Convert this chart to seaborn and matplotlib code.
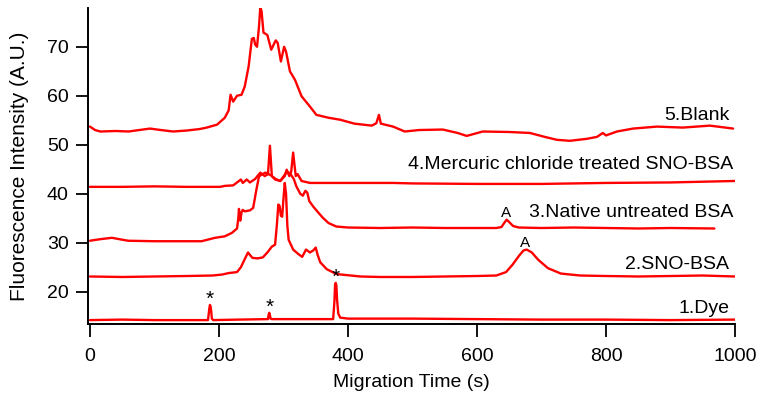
import numpy as np
import pandas as pd
import seaborn as sns
import matplotlib
matplotlib.use("Agg")
import matplotlib.pyplot as plt

# electropherogram traces (time in s, intensity in A.U.)
dye_t = [0, 50, 100, 150, 183, 185, 186, 187, 188, 189, 191, 230, 276, 277, 278, 279, 280, 282,
         330, 377, 379, 380, 381, 382, 383, 385, 388, 400, 500, 600, 700, 800, 900, 1000]
dye_y = [14.2, 14.3, 14.2, 14.2, 14.2, 16.5, 17.3, 17.0, 16.0, 14.5, 14.2, 14.3, 14.4, 15.3, 15.7, 15.2, 14.5, 14.4,
         14.4, 14.4, 18.0, 21.5, 21.8, 21.3, 18.5, 15.5, 14.7, 14.5, 14.5, 14.4, 14.3, 14.3, 14.2, 14.3]

sno_t = [0, 50, 100, 150, 190, 205, 215, 228, 234, 238, 242, 245, 248, 252, 260, 268, 275, 282, 287, 290,
         292, 294, 296, 298, 300, 302, 304, 306, 308, 315, 322, 329, 335, 341, 346, 350, 353, 357, 367, 382,
         419, 450, 500, 550, 600, 630, 645, 655, 665, 672, 677, 685, 695, 710, 730, 760, 800, 850, 900, 950, 1000]
sno_y = [23.1, 23.0, 23.1, 23.2, 23.3, 23.5, 23.8, 24.0, 25.0, 26.1, 27.2, 28.0, 27.5, 26.9, 26.8, 27.0, 28.0, 29.2, 29.6, 34.0,
         37.8, 37.5, 35.5, 35.3, 39.0, 42.2, 40.0, 33.5, 30.6, 28.6, 27.8, 27.1, 28.6, 28.0, 28.4, 29.0, 27.5, 26.0, 24.6, 23.6,
         23.1, 23.0, 23.0, 23.1, 23.2, 23.3, 24.0, 25.5, 27.3, 28.4, 28.6, 28.0, 26.5, 24.8, 23.7, 23.3, 23.2, 23.1, 23.2, 23.3, 23.1]

bsa_t = [0, 15, 34, 59, 100, 140, 173, 194, 209, 220, 228, 230, 231, 233, 235, 237, 240, 248, 253, 258,
         262, 266, 272, 280, 288, 295, 300, 305, 310, 316, 320, 326, 330, 334, 337, 340, 346, 353, 361, 370,
         382, 400, 450, 500, 550, 600, 630, 638, 642, 646, 650, 656, 665, 700, 750, 800, 850, 900, 968]
bsa_y = [30.4, 30.7, 31.0, 30.4, 30.3, 30.3, 30.3, 31.0, 31.3, 32.0, 32.9, 35.0, 36.9, 34.5, 36.2, 36.7, 36.4, 36.6, 37.1, 40.8,
         43.5, 43.9, 44.3, 43.8, 43.0, 42.6, 43.5, 44.5, 44.2, 43.0, 41.5, 40.0, 39.6, 40.6, 40.2, 38.5, 37.4, 36.3, 35.1, 34.0,
         33.3, 33.1, 33.0, 33.1, 33.0, 33.0, 33.0, 33.2, 34.0, 34.7, 34.2, 33.4, 33.1, 33.0, 33.1, 33.0, 32.9, 33.0, 32.9]

hg_t = [0, 50, 100, 150, 202, 209, 222, 234, 237, 243, 248, 256, 264, 271, 276, 279, 282, 287, 295, 302,
        305, 309, 312, 315, 319, 322, 328, 341, 419, 470, 500, 600, 700, 800, 900, 1000]
hg_y = [41.4, 41.4, 41.5, 41.4, 41.4, 41.6, 41.7, 42.9, 42.2, 42.9, 42.3, 43.0, 44.3, 43.6, 44.0, 49.8, 43.6, 42.9, 42.6, 43.6,
        44.9, 43.6, 44.5, 48.4, 43.6, 44.0, 42.6, 42.2, 42.2, 42.2, 42.1, 42.0, 42.0, 42.2, 42.3, 42.6]

blank_t = [0, 8, 16, 40, 60, 93, 110, 129, 150, 170, 181, 197, 209, 215, 218, 222, 228, 235, 240, 246,
           251, 254, 256, 259, 262, 264, 266, 269, 275, 281, 288, 291, 296, 301, 304, 310, 318, 328, 341, 351,
           370, 388, 410, 437, 444, 448, 451, 470, 488, 510, 547, 570, 584, 609, 650, 682, 705, 724, 744, 770,
           786, 795, 800, 817, 842, 879, 919, 961, 985, 997]
blank_y = [53.7, 53.0, 52.7, 52.8, 52.7, 53.3, 53.0, 52.7, 52.9, 53.2, 53.5, 54.1, 55.5, 57.0, 60.2, 58.8, 60.0, 60.2, 61.9, 66.0,
           71.6, 71.8, 70.5, 70.0, 74.0, 77.9, 77.3, 72.9, 72.4, 69.4, 71.3, 70.8, 67.0, 70.0, 69.0, 65.0, 63.2, 59.9, 57.8, 56.1,
           55.5, 55.1, 54.3, 53.9, 54.4, 56.1, 54.3, 53.7, 52.7, 53.0, 53.1, 52.4, 51.8, 52.7, 52.6, 52.4, 51.6, 51.0, 50.8, 51.2,
           51.6, 52.4, 51.9, 52.7, 53.3, 53.7, 53.5, 53.9, 53.5, 53.3]

labels = ["1.Dye", "2.SNO-BSA", "3.Native untreated BSA",
          "4.Mercuric chloride treated SNO-BSA", "5.Blank"]
label_x = [991, 991, 997, 997, 992]
label_y = [16.5, 25.5, 36.1, 45.9, 55.9]
star_t = [186, 278, 381]
star_y = [17.3, 15.7, 21.8]
caret_t = [645, 674]
caret_y = [34.7, 28.6]

sns.set_style("ticks")
plt.rcParams['font.family'] = ['Liberation Sans', 'DejaVu Sans']
for k in ["text.color", "axes.labelcolor", "xtick.color", "ytick.color"]:
    plt.rcParams[k] = "black"

fig, ax = plt.subplots(figsize=(7.62, 4.03), dpi=100)
fig.subplots_adjust(left=0.1155, right=0.9646, bottom=0.196, top=0.980)

traces = [(dye_t, dye_y), (sno_t, sno_y), (bsa_t, bsa_y), (hg_t, hg_y), (blank_t, blank_y)]
for (t, y) in traces:
    sns.lineplot(x=t, y=y, color="#ff0000", lw=1.7, sort=False, estimator=None, ax=ax)

for name, lx, ly in zip(labels, label_x, label_y):
    ax.text(lx, ly, name, ha="right", va="center", fontsize=14)
for t, y in zip(star_t, star_y):
    ax.annotate("*", xy=(t, y), xytext=(0, -3), textcoords="offset points",
                ha="center", va="bottom", fontsize=15)
for t, y in zip(caret_t, caret_y):
    ax.annotate("A", xy=(t, y), xytext=(0, 0), textcoords="offset points",
                ha="center", va="bottom", fontsize=11)

ax.set_xlim(-3, 1000)
ax.set_ylim(13.4, 77.9)
ax.set_xticks([0, 200, 400, 600, 800, 1000])
ax.set_yticks([20, 30, 40, 50, 60, 70])
ax.set_xlabel("Migration Time (s)", fontsize=14, labelpad=7)
ax.set_ylabel("Fluorescence Intensity (A.U.)", fontsize=15, labelpad=13)
ax.tick_params(axis="both", labelsize=14, length=9, width=1.3, direction="out", color="black")
ax.tick_params(axis="x", pad=8)
ax.tick_params(axis="y", pad=5)
sns.despine(ax=ax)
for s in ["left", "bottom"]:
    ax.spines[s].set_linewidth(1.4)
    ax.spines[s].set_color("black")

fig.savefig("out.png", dpi=100)
